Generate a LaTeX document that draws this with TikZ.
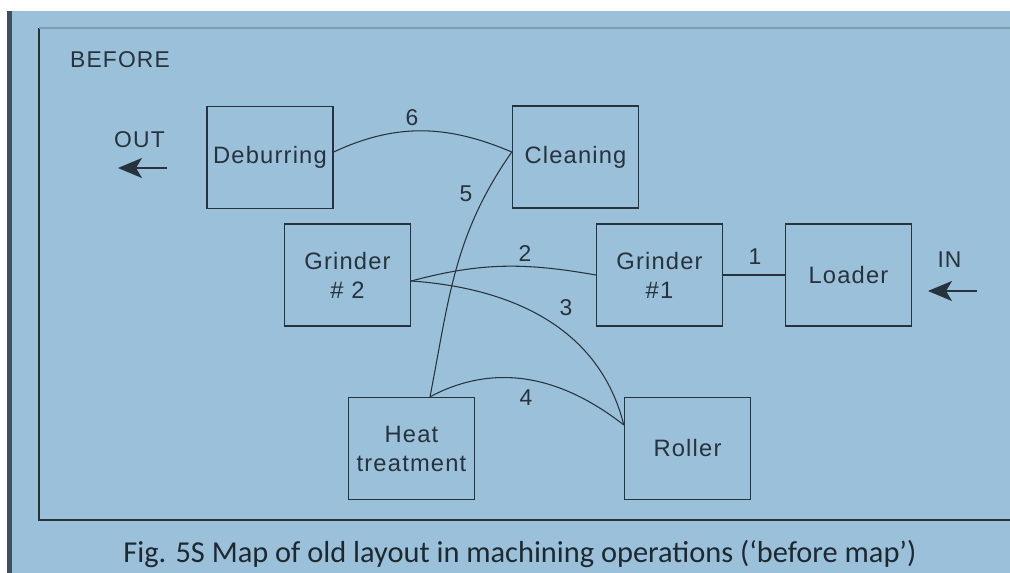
\documentclass[tikz,border=0pt]{standalone}
\usepackage{fontspec}
\setmainfont{Liberation Sans}
\newfontfamily\mapfont[LetterSpace=5]{Liberation Sans}
\newfontfamily\legfont{Carlito}
\usetikzlibrary{
  arrows.meta,
  calc
}

\definecolor{fundo}{HTML}{9BC0D9}
\definecolor{traco}{HTML}{26323C}
\definecolor{barra}{HTML}{3E505D}

\begin{document}
\begin{tikzpicture}[
    >={Stealth[length=0.48cm,width=0.4cm,inset=0.12cm]},
    caixa/.style={draw=traco,line width=0.8pt,
      minimum width=2.52cm,minimum height=2.04cm,
      align=center,text=traco,
      font=\mapfont\fontsize{13.5}{16.5}\selectfont},
    rotulo/.style={text=traco,
      font=\mapfont\fontsize{13}{15}\selectfont},
    fluxo/.style={draw=traco,line width=0.6pt}
    ]

    \useasboundingbox (0,0) rectangle (20.2,11.46);

    % fundo
    \fill[white] (0,0) rectangle (20.2,11.46);
    \fill[fundo] (0.24,0) rectangle (20.2,11.24);
    \fill[barra] (0.14,0) rectangle (0.24,11.24);

    % moldura
    \draw[traco,line width=0.8pt]
    (0.78,10.9)--(0.78,1.06)--(20.2,1.06);
    \draw[traco!25!fundo,line width=0.8pt]
    (0.78,10.9)--(20.2,10.9);

    \node[rotulo,anchor=west] (antes) at (1.28,10.26)
    {BEFORE};

    % maquinas
    \node[caixa] (deb) at (5.40,8.31) {Deburring};
    \node[caixa] (cle) at (11.51,8.32) {Cleaning};
    \node[caixa] (gr2) at (6.95,5.96) {Grinder\\\# 2};
    \node[caixa] (gr1) at (13.19,5.96) {Grinder\\\#1};
    \node[caixa] (load) at (16.97,5.96) {Loader};
    \node[caixa] (heat) at (8.23,2.49) {Heat\\treatment};
    \node[caixa] (roll) at (13.75,2.49) {Roller};

    % ligacoes
    \draw[fluxo] (gr1.east)--(load.west);

    \draw[fluxo] ([yshift=-0.12cm]gr2.east)
    to[out=15,in=170] (gr1.west);

    \draw[fluxo] ([yshift=-0.12cm]gr2.east)
    to[out=-4,in=104] ([yshift=0.47cm]roll.west);

    \draw[fluxo] ([xshift=0.37cm]heat.north)
    to[out=28,in=142] ([yshift=0.47cm]roll.west);

    \draw[fluxo] ([xshift=0.37cm]heat.north)
    to[out=79,in=-125] ([yshift=0.1cm]cle.west);

    \draw[fluxo] ([yshift=0.11cm]deb.east)
    to[out=25,in=157] ([yshift=0.1cm]cle.west);

    \node[rotulo] (n1) at (15.10,6.32) {1};
    \node[rotulo] (n2) at (10.50,6.38) {2};
    \node[rotulo] (n3) at (11.32,5.30) {3};
    \node[rotulo] (n4) at (10.52,3.50) {4};
    \node[rotulo] (n5) at (9.32,7.58) {5};
    \node[rotulo] (n6) at (8.24,9.10) {6};

    % entrada e saida
    \node[rotulo] (saida) at (2.79,8.66) {OUT};
    \coordinate (saidaA) at (3.34,8.10);
    \coordinate (saidaB) at (2.36,8.10);
    \draw[->,traco,line width=0.9pt] (saidaA)--(saidaB);

    \node[rotulo] (entrada) at (18.99,6.26) {IN};
    \coordinate (entradaA) at (19.54,5.64);
    \coordinate (entradaB) at (18.56,5.64);
    \draw[->,traco,line width=0.9pt] (entradaA)--(entradaB);

    % legenda
    \node[text=traco!80!black,font=\legfont\fontsize{17.3}{20}\selectfont]
    (leg) at (10.40,0.38)
    {Fig. 5S Map of old layout in machining operations (‘before map’)};

\end{tikzpicture}
\end{document}
